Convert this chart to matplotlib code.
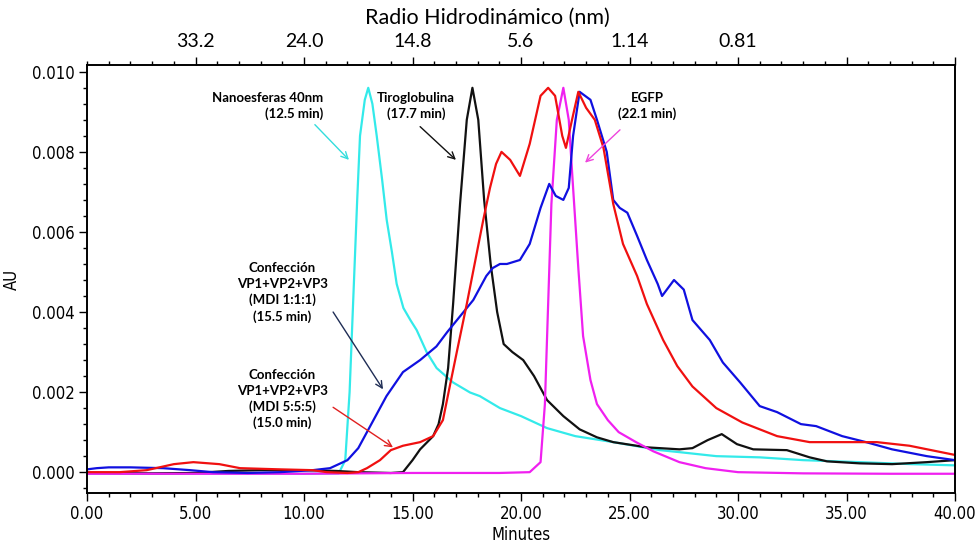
import matplotlib
matplotlib.use("Agg")
import matplotlib.pyplot as plt
from matplotlib.ticker import MultipleLocator
from matplotlib import font_manager

# Nanoesferas 40nm (cyan)
t_nano = [0, 5, 10, 11.6, 11.9, 12.1, 12.26, 12.45, 12.58, 12.8, 12.96, 13.15, 13.35, 13.6,
          13.81, 14.05, 14.27, 14.58, 14.9, 15.19, 15.65, 16.11, 16.87, 17.65, 18.1, 19.03,
          20, 21.2, 22.5, 24.25, 26.4, 27.3, 29, 31.0, 33, 35.6, 38, 40]
au_nano = [-0.00004, -0.00004, -0.00004, -0.00003, 0.0003, 0.0020, 0.0042, 0.0068, 0.0084,
           0.0093, 0.0096, 0.0092, 0.0084, 0.0073, 0.0063, 0.0055, 0.0047, 0.0041, 0.0038,
           0.00355, 0.0030, 0.0026, 0.00224, 0.00199, 0.0019, 0.0016, 0.0014, 0.0011, 0.0009,
           0.00075, 0.00055, 0.0005, 0.0004, 0.00037, 0.0003, 0.00025, 0.0002, 0.00017]

# Tiroglobulina (black)
t_tiro = [0, 3, 5, 6.5, 8, 10, 11.5, 12.5, 14.0, 14.56, 15.0, 15.35, 15.95, 16.2, 16.4, 16.64,
          16.87, 17.19, 17.5, 17.76, 18.03, 18.3, 18.6, 18.9, 19.2, 19.6, 20.1, 20.6, 21.2,
          21.95, 22.7, 23.5, 24.25, 25.8, 27.3, 27.9, 28.6, 29.25, 29.95, 30.7, 32.25, 33.3,
          34.1, 35.6, 37.1, 38.7, 40]
au_tiro = [-0.00002, -0.00003, -0.00002, 0.00003, 0.00005, 0.00005, 0.00003, 0.0, -0.00002,
           0.0, 0.0003, 0.00057, 0.0009, 0.0012, 0.0017, 0.0026, 0.0042, 0.0067, 0.0088,
           0.0096, 0.0088, 0.0068, 0.0052, 0.0040, 0.0032, 0.0030, 0.0028, 0.0024, 0.0018,
           0.0014, 0.00107, 0.00087, 0.00075, 0.00062, 0.00057, 0.0006, 0.0008, 0.00095,
           0.0007, 0.00057, 0.00055, 0.00037, 0.00027, 0.00022, 0.0002, 0.00025, 0.0003]

# Confeccion VP1+VP2+VP3 MDI 5:5:5 (red)
t_mdi5 = [0, 1.5, 2.75, 4.0, 4.9, 6.1, 7.05, 8.9, 10.4, 11.05, 12.0, 12.5, 12.9, 13.5, 14.0,
          14.56, 15.35, 15.95, 16.4, 16.7, 17.04, 17.5, 17.97, 18.26, 18.57, 18.85, 19.1,
          19.5, 19.95, 20.4, 20.9, 21.25, 21.57, 21.9, 22.07, 22.35, 22.64, 23.0, 23.4, 23.8,
          24.25, 24.7, 25.35, 25.8, 26.55, 27.2, 27.9, 29.0, 30.2, 31.8, 33.3, 34.85, 36.4,
          37.9, 40]
au_mdi5 = [0.0, 0.0, 0.00005, 0.0002, 0.00025, 0.0002, 0.0001, 0.00007, 0.00005, 0.0,
           -0.00002, 0.0, 0.0001, 0.0003, 0.00055, 0.00066, 0.00075, 0.0009, 0.0013, 0.0021,
           0.0030, 0.0042, 0.0055, 0.0063, 0.0071, 0.0077, 0.0080, 0.0078, 0.0074, 0.0082,
           0.0094, 0.0096, 0.0094, 0.0084, 0.0081, 0.0088, 0.0095, 0.0091, 0.0088, 0.0081,
           0.0067, 0.0057, 0.0049, 0.0042, 0.0033, 0.00265, 0.00214, 0.0016, 0.00124, 0.0009,
           0.00075, 0.00075, 0.00075, 0.00066, 0.00043]

# Confeccion VP1+VP2+VP3 MDI 1:1:1 (blue)
t_mdi1 = [0, 0.45, 1.0, 2.0, 3.5, 4.75, 5.8, 7.4, 8.9, 10.4, 11.2, 11.6, 12.0, 12.5, 13.0,
          13.4, 13.8, 14.56, 15.35, 16.1, 16.6, 17.2, 17.8, 18.1, 18.4, 18.7, 19.03, 19.35,
          19.95, 20.4, 20.9, 21.3, 21.6, 21.95, 22.2, 22.4, 22.7, 23.2, 23.5, 23.95, 24.25,
          24.55, 24.9, 25.35, 25.8, 26.3, 26.5, 27.05, 27.5, 27.9, 28.7, 29.3, 30.1, 31.0,
          31.8, 32.9, 33.6, 34.8, 35.9, 37.1, 38.7, 40]
au_mdi1 = [0.00007, 0.0001, 0.00012, 0.00012, 0.0001, 0.00005, 0.0, -0.00002, 0.0, 0.00005,
           0.0001, 0.0002, 0.0003, 0.0006, 0.0011, 0.0015, 0.0019, 0.0025, 0.0028, 0.00314,
           0.0035, 0.0039, 0.0043, 0.0046, 0.0049, 0.0051, 0.0052, 0.0052, 0.0053, 0.0057,
           0.0066, 0.0072, 0.0069, 0.0068, 0.0071, 0.0084, 0.0095, 0.0093, 0.0088, 0.0080,
           0.0068, 0.0066, 0.00648, 0.0059, 0.0053, 0.0047, 0.0044, 0.0048, 0.00456, 0.0038,
           0.0033, 0.00274, 0.00224, 0.00165, 0.0015, 0.0012, 0.00115, 0.0009, 0.00075,
           0.00057, 0.0004, 0.0003]

# EGFP (magenta)
t_egfp = [0, 5, 10, 15, 19, 20.4, 20.9, 21.1, 21.25, 21.4, 21.65, 21.95, 22.2, 22.4, 22.64,
          22.86, 23.2, 23.5, 24.0, 24.5, 25.3, 26.1, 27.3, 28.5, 30, 33, 37, 40]
au_egfp = [-0.00004, -0.00004, -0.00004, -0.00002, -0.00002, 0.0, 0.00025, 0.0017, 0.0042,
           0.0067, 0.0088, 0.0096, 0.0088, 0.0071, 0.0051, 0.0034, 0.0023, 0.0017, 0.0013,
           0.001, 0.00075, 0.00052, 0.00025, 0.0001, 0.0, -0.00003, -0.00004, -0.00004]

# top axis: hydrodynamic radius at given minutes
radio_min = [5, 10, 15, 20, 25, 30, 35, 40]
radio_lbl = ["33.2", "24.0", "14.8", "5.6", "1.14", "0.81", "", ""]

names = {f.name for f in font_manager.fontManager.ttflist}
if "Liberation Sans Narrow" in names:
    narrow = dict(family=["Liberation Sans Narrow", "DejaVu Sans"], fontsize=13)
else:
    narrow = dict(family=["DejaVu Sans"], fontstretch="condensed", fontsize=12)
soft = ["Lato", "DejaVu Sans"]

fig = plt.figure(figsize=(9.79, 5.48), dpi=100)
ax = fig.add_axes([0.0889, 0.1004, 0.8866, 0.781])

lw = 1.6
ax.plot(t_nano, au_nano, color="#33eaea", lw=lw)
ax.plot(t_tiro, au_tiro, color="#111111", lw=lw)
ax.plot(t_egfp, au_egfp, color="#f020f0", lw=lw)
ax.plot(t_mdi1, au_mdi1, color="#1010e0", lw=lw)
ax.plot(t_mdi5, au_mdi5, color="#f01010", lw=lw)

ax.set_xlim(0, 40)
ax.set_ylim(-0.00052, 0.01017)
ax.set_xticks(range(0, 41, 5))
ax.set_xticklabels([f"{v:.2f}" for v in range(0, 41, 5)], **narrow)
ax.set_yticks([0, 0.002, 0.004, 0.006, 0.008, 0.010])
ax.set_yticklabels(["0.000", "0.002", "0.004", "0.006", "0.008", "0.010"], **narrow)
ax.xaxis.set_minor_locator(MultipleLocator(1))
ax.yaxis.set_minor_locator(MultipleLocator(0.0004))
ax.tick_params(which="major", length=6, width=1, direction="out", pad=3)
ax.tick_params(which="minor", length=3, width=1, direction="out")
ax.set_xlabel("Minutes", labelpad=2, **narrow)
ax.set_ylabel("AU", labelpad=8, **narrow)

ax2 = ax.twiny()
ax2.set_xlim(0, 40)
ax2.set_xticks(radio_min)
ax2.set_xticklabels(radio_lbl, family=soft, fontsize=14)
ax2.xaxis.set_minor_locator(MultipleLocator(1))
ax2.tick_params(which="major", length=6, width=1, direction="out", pad=5)
ax2.tick_params(which="minor", length=3, width=1, direction="out")
ax2.set_xlabel("Radio Hidrodinámico (nm)", family=soft, fontsize=15.5)
ax2.xaxis.set_label_coords(0.461, 1.095)

for a in (ax, ax2):
    for s in a.spines.values():
        s.set_linewidth(1.2)

tfont = dict(family=soft, fontsize=9.5, fontweight="bold", linespacing=1.35)
ax.text(10.9, 0.00915, "Nanoesferas 40nm\n(12.5 min)", ha="right", va="center",
        multialignment="right", **tfont)
ax.text(15.16, 0.00915, "Tiroglobulina\n(17.7 min)", ha="center", va="center", **tfont)
ax.text(25.8, 0.00915, "EGFP\n(22.1 min)", ha="center", va="center", **tfont)
ax.text(8.99, 0.00449, "Confección\nVP1+VP2+VP3\n(MDI 1:1:1)\n(15.5 min)",
        ha="center", va="center", **tfont)
ax.text(8.99, 0.00182, "Confección\nVP1+VP2+VP3\n(MDI 5:5:5)\n(15.0 min)",
        ha="center", va="center", **tfont)

arrows = [
    ((10.5, 0.00868), (12.07, 0.0078), "#33dddd"),
    ((15.35, 0.00863), (17.0, 0.0078), "#111111"),
    ((24.56, 0.00855), (22.95, 0.00773), "#ee44dd"),
    ((11.34, 0.0040), (13.64, 0.00207), "#1f2d55"),
    ((11.34, 0.00162), (14.1, 0.00062), "#e02020"),
]
for tail, head, c in arrows:
    ax.annotate("", xy=head, xytext=tail,
                arrowprops=dict(arrowstyle="->", color=c, lw=1.0,
                                shrinkA=0, shrinkB=0, mutation_scale=12))

fig.savefig("out.png", dpi=100)
